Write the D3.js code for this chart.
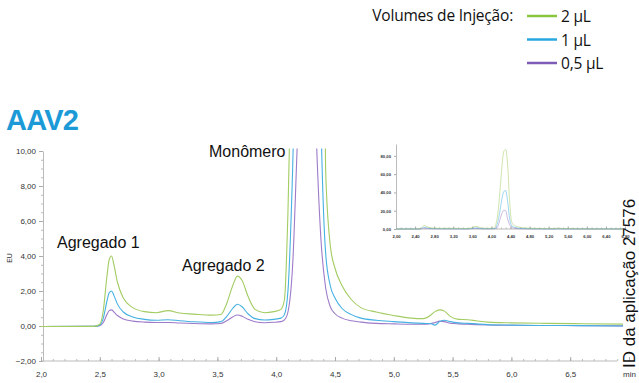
<!DOCTYPE html>
<html>
<head>
<meta charset="utf-8">
<script src="https://cdn.jsdelivr.net/npm/d3@7"></script>
<style>
  html, body { margin: 0; padding: 0; background: #fff; }
  svg { display: block; }
  .tick text { font-family: "Liberation Sans", Arial, sans-serif; fill: #333; }
</style>
</head>
<body>
<div id="chart"></div>
<script>
// retention time (min), shared by all three traces
const times = [
  2.00, 2.45, 2.50, 2.53, 2.56, 2.58, 2.60, 2.62, 2.65, 2.70,
  2.78, 2.88, 2.98, 3.08, 3.18, 3.30, 3.45, 3.53, 3.58, 3.63,
  3.67, 3.71, 3.76, 3.82, 3.90, 3.98, 4.04, 4.07, 4.10, 4.14,
  4.18, 4.22, 4.26, 4.30, 4.34, 4.38, 4.42, 4.46, 4.50, 4.56,
  4.64, 4.72, 4.85, 5.00, 5.15, 5.25, 5.31, 5.35, 5.39, 5.43,
  5.48, 5.55, 5.63, 5.70, 5.80, 6.00, 6.30, 6.60, 6.95
];

// EU values per injection volume
const green2uL = [
  -0.03, -0.02, 0.10, 0.90, 2.80, 3.80, 4.00, 3.50, 2.50, 1.60,
  1.05, 0.82, 0.76, 0.88, 0.74, 0.68, 0.62, 0.66, 1.30, 2.30,
  2.85, 2.60, 1.70, 0.95, 0.76, 0.82, 0.95, 1.50, 6.50, 19,
  42, 68, 85, 87, 70, 32, 9.0, 4.6, 3.3, 2.3,
  1.50, 1.05, 0.80, 0.60, 0.45, 0.42, 0.60, 0.82, 0.92, 0.85,
  0.55, 0.38, 0.36, 0.30, 0.22, 0.18, 0.15, 0.13, 0.11
];
const blue1uL = [
  -0.03, -0.02, 0.05, 0.45, 1.40, 1.90, 2.00, 1.75, 1.25, 0.80,
  0.52, 0.38, 0.33, 0.36, 0.30, 0.24, 0.20, 0.25, 0.55, 1.00,
  1.24, 1.10, 0.70, 0.42, 0.34, 0.38, 0.45, 0.65, 2.0, 9.0,
  20, 33, 41, 42, 30, 12, 4.2, 2.3, 1.6, 1.0,
  0.65, 0.45, 0.33, 0.25, 0.18, 0.15, 0.14, 0.05, 0.25, 0.33,
  0.25, 0.18, 0.15, 0.12, 0.08, 0.05, 0.03, 0.02, 0.00
];
const purple05uL = [
  -0.03, -0.02, 0.02, 0.20, 0.65, 0.88, 0.92, 0.80, 0.60, 0.40,
  0.28, 0.22, 0.20, 0.20, 0.17, 0.14, 0.12, 0.14, 0.30, 0.52,
  0.63, 0.56, 0.38, 0.24, 0.19, 0.21, 0.25, 0.35, 0.80, 3.5,
  10.5, 17, 20.5, 20, 11, 5.0, 2.2, 1.1, 0.70, 0.45,
  0.30, 0.22, 0.15, 0.12, 0.10, 0.10, 0.13, 0.20, 0.28, 0.25,
  0.16, 0.12, 0.10, 0.08, 0.06, 0.04, 0.03, 0.02, 0.01
];

const seriesNames = ["0,5 µL", "1 µL", "2 µL"];
const seriesColors = ["#9d7bc9", "#45b0e2", "#a3cc62"];
const legendColors = ["#8bc53f", "#29a8e0", "#7e5cb8"];
const legendLabels = ["2 µL", "1 µL", "0,5 µL"];

const xTicks = [2.0, 2.5, 3.0, 3.5, 4.0, 4.5, 5.0, 5.5, 6.0, 6.5, 7.0];
const yTicks = [-2, 0, 2, 4, 6, 8, 10];
const insetXTicks = [2.0, 2.4, 2.8, 3.2, 3.6, 4.0, 4.4, 4.8, 5.2, 5.6, 6.0, 6.4, 6.8];
const insetYTicks = [0, 20, 40, 60, 80];

const peakLabels = [
  { text: "Agregado 1", x: 57, y: 248 },
  { text: "Agregado 2", x: 182, y: 271 },
  { text: "Monômero", x: 209, y: 157 }
];

const width = 639, height = 383;
const comma = f => (d => d3.format(f)(d).replace(".", ","));

const svg = d3.select("#chart").append("svg")
  .attr("width", width)
  .attr("height", height);

// Main chart scales
const x = d3.scaleLinear().domain([2, 7]).range([41, 629]);
const y = d3.scaleLinear().domain([-2, 10]).range([361, 151]);

// clip for the off-scale monomer peak
svg.append("clipPath").attr("id", "mainClip")
  .append("rect")
  .attr("x", x(2)).attr("y", y(10.15))
  .attr("width", x(6.95) - x(2)).attr("height", y(-2) - y(10.15));

// y axis minor ticks
svg.append("g")
  .attr("transform", "translate(43,0)")
  .call(d3.axisLeft(y).tickValues(d3.range(-2, 10.01, 0.5)).tickSize(2).tickFormat(""))
  .call(g => g.select(".domain").remove())
  .call(g => g.selectAll("line").attr("stroke", "#bbb"));

// y axis
svg.append("g")
  .attr("transform", "translate(43,0)")
  .call(d3.axisLeft(y).tickValues(yTicks).tickSize(4).tickSizeOuter(0).tickPadding(3)
    .tickFormat(comma(".2f")))
  .call(g => g.select(".domain").attr("stroke", "#bbb"))
  .call(g => g.selectAll("line").attr("stroke", "#aaa"))
  .call(g => g.selectAll("text").attr("font-size", 8).attr("fill", "#222"));

// x axis minor ticks
svg.append("g")
  .attr("transform", `translate(0,${y(-2)})`)
  .call(d3.axisBottom(x).tickValues(d3.range(2, 6.95, 0.1)).tickSize(-2).tickFormat(""))
  .call(g => g.select(".domain").remove())
  .call(g => g.selectAll("line").attr("stroke", "#bbb"));

// x axis
svg.append("g")
  .attr("transform", `translate(0,${y(-2)})`)
  .call(d3.axisBottom(x).tickValues(xTicks).tickSize(-4).tickSizeOuter(0).tickPadding(10)
    .tickFormat(d => d === 7 ? "min" : comma(".1f")(d)))
  .call(g => g.select(".domain").attr("stroke", "#bbb").attr("d", `M${x(2)},0H${x(6.9)}`))
  .call(g => g.selectAll("line").attr("stroke", "#aaa"))
  .call(g => g.selectAll("text").attr("font-size", 8).attr("fill", "#222"));

// EU label
svg.append("text")
  .attr("transform", "translate(12,258) rotate(-90)")
  .attr("text-anchor", "middle")
  .attr("font-family", "Liberation Sans, Arial, sans-serif")
  .attr("font-size", 7)
  .attr("fill", "#333")
  .text("EU");

// traces
const traces = [purple05uL, blue1uL, green2uL];
const line = d3.line()
  .x((d, i) => x(times[i]))
  .y(d => y(d))
  .curve(d3.curveMonotoneX);

svg.append("g").attr("clip-path", "url(#mainClip)")
  .selectAll("path")
  .data(traces)
  .enter()
  .append("path")
  .attr("d", line)
  .attr("fill", "none")
  .attr("stroke", (d, i) => seriesColors[i])
  .attr("stroke-width", 1.1);

// peak labels
svg.selectAll(".peak")
  .data(peakLabels)
  .enter()
  .append("text")
  .attr("class", "peak")
  .attr("x", d => d.x)
  .attr("y", d => d.y)
  .attr("font-family", "Liberation Sans, Arial, sans-serif")
  .attr("font-size", 16)
  .attr("fill", "#111")
  .text(d => d.text);

// Title
svg.append("text")
  .attr("x", 6)
  .attr("y", 130)
  .attr("font-family", "Liberation Sans, Arial, sans-serif")
  .attr("font-weight", "bold")
  .attr("font-size", 29)
  .attr("letter-spacing", -0.8)
  .attr("fill", "#1b9ad7")
  .text("AAV2");

// Inset
const xi = d3.scaleLinear().domain([2, 6.8]).range([396, 625]);
const yi = d3.scaleLinear().domain([0, 93]).range([229, 144]);

svg.append("clipPath").attr("id", "insetClip")
  .append("rect")
  .attr("x", xi(2)).attr("y", 140)
  .attr("width", 623 - xi(2)).attr("height", 90);

svg.append("g")
  .attr("transform", `translate(0,${yi(0)})`)
  .call(d3.axisBottom(xi).tickValues(d3.range(2, 6.78, 0.1)).tickSize(-1.5).tickFormat(""))
  .call(g => g.select(".domain").remove())
  .call(g => g.selectAll("line").attr("stroke", "#bbb"));

svg.append("g")
  .attr("transform", `translate(0,${yi(0)})`)
  .call(d3.axisBottom(xi).tickValues(insetXTicks).tickSize(-2.5).tickSizeOuter(0).tickPadding(6)
    .tickFormat(comma(".2f")))
  .call(g => g.select(".domain").attr("stroke", "#bbb").attr("d", `M${xi(2)},0H623`))
  .call(g => g.selectAll("line").attr("stroke", "#aaa"))
  .call(g => g.selectAll("text").attr("font-size", 4.2).attr("font-weight", "bold").attr("fill", "#444"));

svg.append("g")
  .attr("transform", `translate(${xi(2)},0)`)
  .call(d3.axisLeft(yi).tickValues(insetYTicks).tickSize(2).tickSizeOuter(0).tickPadding(3)
    .tickFormat(comma(".2f")))
  .call(g => g.select(".domain").attr("stroke", "#bbb"))
  .call(g => g.selectAll("line").attr("stroke", "#aaa"))
  .call(g => g.selectAll("text").attr("font-size", 4.2).attr("font-weight", "bold").attr("fill", "#444"));

const insetLine = d3.line()
  .x((d, i) => xi(times[i]))
  .y(d => yi(d))
  .curve(d3.curveMonotoneX);

svg.append("g").attr("clip-path", "url(#insetClip)")
  .selectAll("path")
  .data(traces)
  .enter()
  .append("path")
  .attr("d", insetLine)
  .attr("fill", "none")
  .attr("stroke", (d, i) => seriesColors[i])
  .attr("stroke-opacity", 0.75)
  .attr("stroke-width", 0.7);

// Legend
const legendFont = "Open Sans, Lato, sans-serif";
svg.append("text")
  .attr("x", 513)
  .attr("y", 21)
  .attr("text-anchor", "end")
  .attr("font-family", legendFont)
  .attr("font-size", 15.5)
  .attr("letter-spacing", -0.2)
  .attr("fill", "#111")
  .text("Volumes de Injeção:");

const legend = svg.selectAll(".legend")
  .data(legendLabels)
  .enter()
  .append("g")
  .attr("class", "legend")
  .attr("transform", (d, i) => `translate(0,${16 + i * 23.5})`);

legend.append("line")
  .attr("x1", 527).attr("x2", 557)
  .attr("stroke", (d, i) => legendColors[i])
  .attr("stroke-width", 2.5);

legend.append("text")
  .attr("x", 561)
  .attr("y", 6)
  .attr("font-family", legendFont)
  .attr("font-size", 15.5)
  .attr("letter-spacing", -0.2)
  .attr("fill", "#111")
  .text(d => d);

// application ID
svg.append("text")
  .attr("transform", "translate(635,368) rotate(-90)")
  .attr("font-family", "Liberation Sans, Arial, sans-serif")
  .attr("font-size", 17)
  .attr("fill", "#111")
  .text("ID da aplicação 27576");
</script>
</body>
</html>
